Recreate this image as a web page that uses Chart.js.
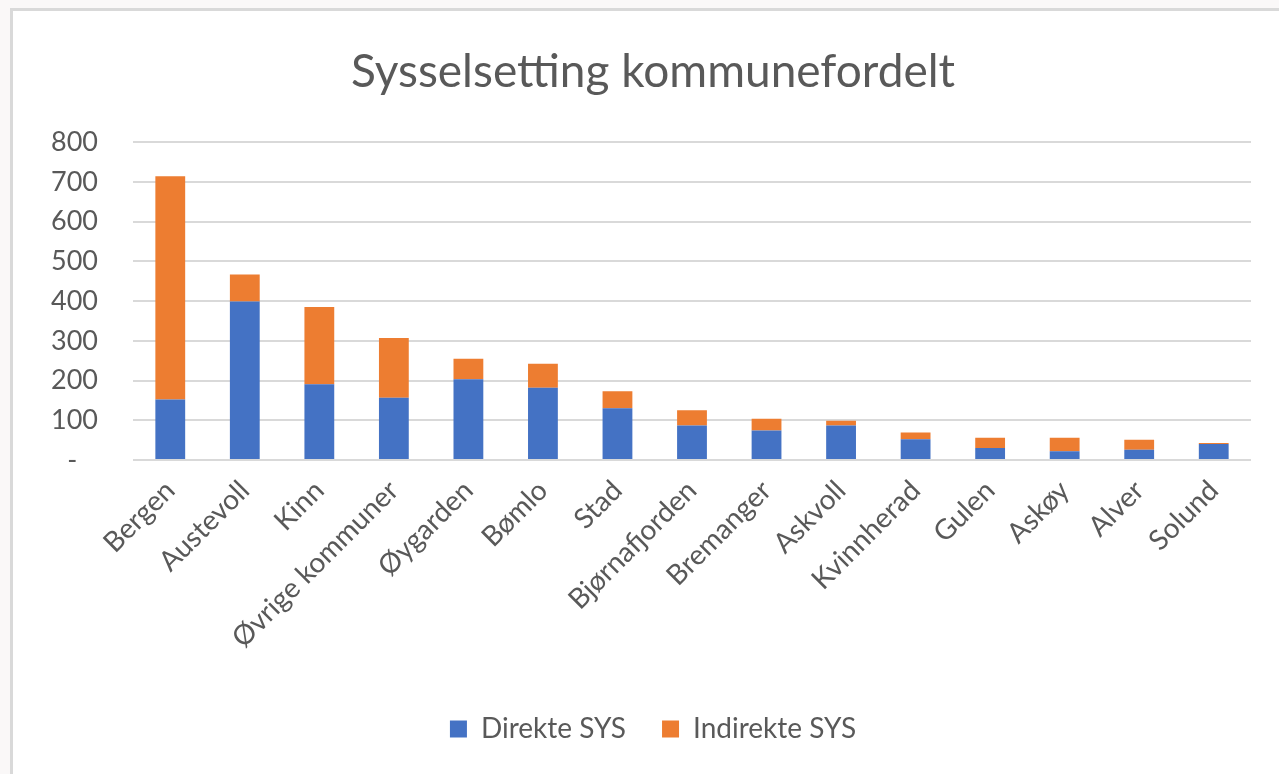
<!DOCTYPE html>
<html lang="no">
<head>
<meta charset="utf-8">
<title>Sysselsetting kommunefordelt</title>
<script src="https://cdn.jsdelivr.net/npm/chart.js@4.4.1/dist/chart.umd.min.js"></script>
<style>
    html, body {
        margin: 0;
        padding: 0;
        background-color: #faf8f8;
        overflow: hidden;
    }
    .chart-card {
        position: absolute;
        left: 10px;
        top: 8px;
        width: 1280px;
        height: 763px;
        background-color: #ffffff;
        border-left: 3px solid #d9d9d9;
        border-top: 3px solid #d9d9d9;
    }
    .chart-card canvas {
        display: block;
    }
</style>
</head>
<body>
<div class="chart-card">
    <canvas id="sysChart" width="1280" height="763"></canvas>
</div>
<script>
// Municipalities, sorted by total employment
const kommuner = ['Bergen', 'Austevoll', 'Kinn', 'Øvrige kommuner', 'Øygarden', 'Bømlo', 'Stad',
    'Bjørnafjorden', 'Bremanger', 'Askvoll', 'Kvinnherad', 'Gulen', 'Askøy', 'Alver', 'Solund'];

// Direct and indirect employment per municipality
const direkteSys = [152, 399, 191, 157, 203, 182, 130, 87, 74, 87, 52, 30, 22, 26, 40];
const indirekteSys = [562, 68, 194, 150, 52, 60, 43, 38, 30, 12, 17, 26, 34, 25, 3];

// Y axis ticks
const yTicks = [0, 100, 200, 300, 400, 500, 600, 700, 800];

const textColor = '#595959';
const gridColor = '#d9d9d9';
const fontFamily = 'Lato, "Open Sans", sans-serif';

function initializeSysChart() {
    const ctx = document.getElementById('sysChart');
    if (!ctx) return;

    new Chart(ctx, {
        type: 'bar',
        data: {
            labels: kommuner,
            datasets: [{
                label: 'Direkte SYS',
                data: direkteSys,
                backgroundColor: '#4472c4',
                borderWidth: 0
            }, {
                label: 'Indirekte SYS',
                data: indirekteSys,
                backgroundColor: '#ed7d31',
                borderWidth: 0
            }]
        },
        options: {
            responsive: false,
            animation: false,
            layout: {
                padding: { top: 34, right: 0, bottom: 21, left: 0 }
            },
            datasets: {
                bar: {
                    categoryPercentage: 1.0,
                    barPercentage: 0.4
                }
            },
            scales: {
                x: {
                    stacked: true,
                    grid: { display: false, drawTicks: false },
                    border: { display: false },
                    ticks: {
                        color: textColor,
                        font: { family: fontFamily, size: 28 },
                        minRotation: 45,
                        maxRotation: 45,
                        autoSkip: false,
                        padding: 14
                    },
                    afterFit: function(scale) {
                        scale.height = 219;
                    }
                },
                y: {
                    stacked: true,
                    min: 0,
                    max: 800,
                    afterBuildTicks: function(scale) {
                        scale.ticks = yTicks.map(v => ({ value: v }));
                    },
                    grid: {
                        color: gridColor,
                        lineWidth: 2,
                        drawTicks: false
                    },
                    border: { display: false },
                    ticks: {
                        color: textColor,
                        font: { family: fontFamily, size: 27 },
                        padding: 35,
                        // zero is shown as a dash, accounting style
                        callback: function(value) {
                            return value === 0 ? '-   ' : value;
                        }
                    },
                    afterFit: function(scale) {
                        scale.width = 120;
                    }
                },
                // empty strip on the right, keeps the plot clear of the card edge
                yPad: {
                    type: 'linear',
                    position: 'right',
                    grid: { display: false, drawTicks: false },
                    border: { display: false },
                    ticks: { display: false },
                    afterFit: function(scale) {
                        scale.width = 42;
                    }
                }
            },
            plugins: {
                title: {
                    display: true,
                    text: 'Sysselsetting kommunefordelt',
                    color: textColor,
                    font: { family: fontFamily, size: 46, weight: 'normal', lineHeight: 1.2 },
                    padding: { top: 0, bottom: 42 }
                },
                legend: {
                    position: 'bottom',
                    labels: {
                        color: textColor,
                        font: { family: fontFamily, size: 28 },
                        boxWidth: 17,
                        boxHeight: 17,
                        padding: 36
                    }
                },
                tooltip: { enabled: false }
            }
        }
    });
}

document.addEventListener('DOMContentLoaded', initializeSysChart);
</script>
</body>
</html>
